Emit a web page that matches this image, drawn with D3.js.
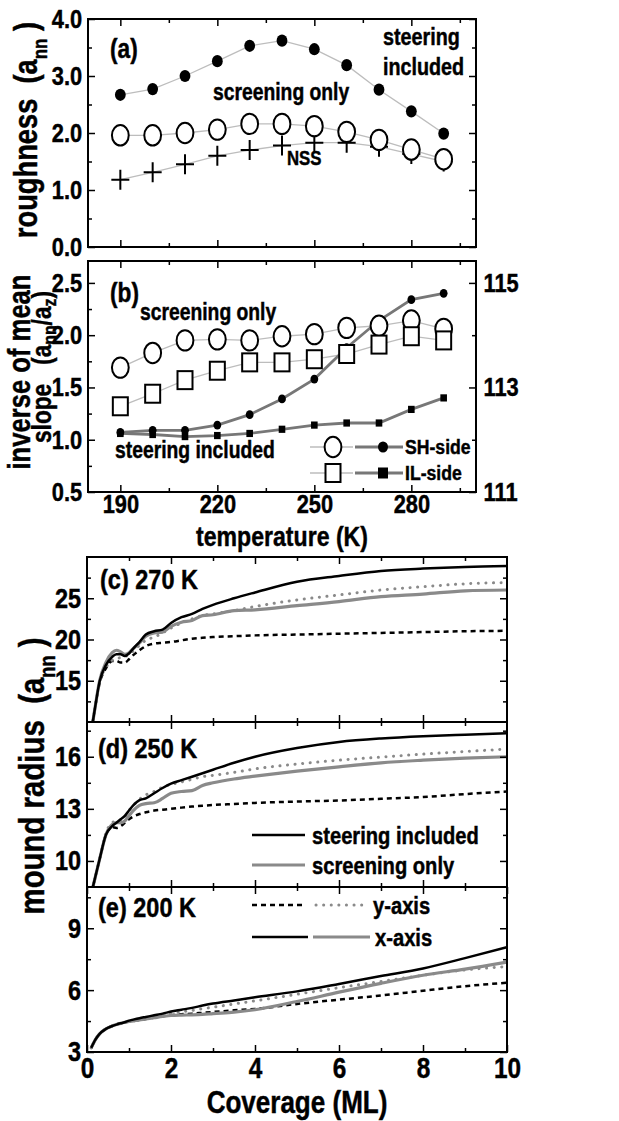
<!DOCTYPE html>
<html>
<head>
<meta charset="utf-8">
<script src="https://cdn.jsdelivr.net/npm/d3@7"></script>
<style>
  body { margin: 0; background: #fff; }
  text { font-family: "Liberation Sans", Arial, sans-serif; font-weight: bold; stroke: #000; stroke-width: 0.45px; }
</style>
</head>
<body>
<div id="chart"></div>
<script>
// page size and the horizontal squeeze of the lettering in the original figure
const W = 619, H = 1121;
const SX = 0.84;
const FONT = "'Liberation Sans', Arial, sans-serif";

// ---- panels (a) and (b): values versus temperature ----
const TEMPS = [190, 200, 210, 220, 230, 240, 250, 260, 270, 280, 290];
const ROUGH_STEER  = [2.67, 2.77, 3.00, 3.26, 3.53, 3.62, 3.47, 3.19, 2.76, 2.38, 1.99];
const ROUGH_SCREEN = [1.96, 1.96, 2.00, 2.06, 2.16, 2.16, 2.12, 2.02, 1.88, 1.71, 1.54];
const ROUGH_NSS    = [1.18, 1.31, 1.45, 1.60, 1.70, 1.78, 1.83, 1.83, 1.76, 1.63, 1.50];

const SLOPE_SH_SCREEN = [1.69, 1.83, 1.95, 1.96, 1.95, 1.99, 2.01, 2.07, 2.09, 2.14, 2.06];
const SLOPE_IL_SCREEN = [1.32, 1.44, 1.57, 1.66, 1.74, 1.74, 1.77, 1.82, 1.91, 1.99, 1.95];
const SLOPE_SH_STEER  = [1.07, 1.09, 1.09, 1.14, 1.24, 1.39, 1.58, 1.88, 2.14, 2.34, 2.40];
const SLOPE_IL_STEER  = [1.06, 1.05, 1.03, 1.04, 1.06, 1.10, 1.14, 1.16, 1.16, 1.29, 1.40];

// ---- panels (c)-(e): mound radius versus coverage ----
const COV = [0.1, 0.2, 0.3, 0.45, 0.6, 0.7, 0.8, 0.9, 1.0, 1.1, 1.25, 1.4, 1.6, 1.8, 2.0,
             2.25, 2.5, 2.75, 3, 3.5, 4, 5, 6, 7, 8, 9, 10];

const R270_X_STEER  = [8.8, 12.0, 14.9, 16.9, 17.9, 18.2, 18.2, 18.0, 18.3, 18.9, 19.7, 20.6, 21.0, 21.2, 22.0, 22.7, 23.1, 23.7, 24.2, 25.0, 25.7, 27.0, 27.7, 28.3, 28.6, 28.8, 28.9];
const R270_X_SCREEN = [8.8, 12.0, 15.0, 17.2, 18.4, 18.7, 18.5, 18.2, 18.4, 18.9, 19.6, 20.4, 20.8, 20.9, 21.6, 22.1, 22.3, 22.9, 23.0, 23.5, 23.6, 24.1, 24.6, 25.2, 25.5, 25.9, 26.0];
const R270_Y_SCREEN = [8.8, 12.0, 14.8, 16.6, 17.5, 17.7, 17.8, 17.9, 18.2, 18.6, 19.3, 19.9, 20.3, 20.8, 21.4, 22.0, 22.5, 22.9, 23.1, 23.5, 24.0, 24.8, 25.4, 26.0, 26.4, 26.75, 26.9];
const R270_Y_STEER  = [8.8, 12.0, 14.7, 16.5, 17.4, 17.4, 17.2, 17.2, 17.6, 18.1, 18.7, 19.2, 19.5, 19.6, 19.7, 19.9, 20.1, 20.2, 20.3, 20.4, 20.5, 20.6, 20.7, 20.8, 20.9, 21.0, 21.05];

const R250_X_STEER  = [8.1, 9.1, 10.1, 11.5, 12.0, 12.2, 12.4, 12.6, 12.9, 13.2, 13.5, 13.6, 13.9, 14.2, 14.45, 14.65, 14.85, 15.05, 15.25, 15.65, 16.0, 16.5, 16.85, 17.05, 17.18, 17.27, 17.35];
const R250_X_SCREEN = [8.1, 9.1, 10.1, 11.5, 12.1, 12.2, 12.2, 12.3, 12.6, 12.9, 13.2, 13.3, 13.35, 13.6, 13.9, 14.0, 14.05, 14.35, 14.5, 14.72, 14.88, 15.17, 15.42, 15.65, 15.8, 15.92, 16.0];
const R250_Y_SCREEN = [8.1, 9.1, 10.1, 11.6, 12.2, 12.3, 12.3, 12.5, 12.9, 13.2, 13.55, 13.8, 14.0, 14.25, 14.4, 14.55, 14.7, 14.85, 14.93, 15.1, 15.3, 15.58, 15.8, 15.98, 16.15, 16.3, 16.44];
const R250_Y_STEER  = [8.1, 9.1, 10.1, 11.5, 11.95, 11.9, 12.0, 12.2, 12.4, 12.55, 12.7, 12.8, 12.9, 12.95, 13.0, 13.07, 13.13, 13.18, 13.22, 13.28, 13.34, 13.42, 13.48, 13.58, 13.68, 13.85, 14.0];

const R200_X_STEER  = [3.2, 3.6, 3.88, 4.12, 4.26, 4.33, 4.39, 4.44, 4.52, 4.57, 4.64, 4.70, 4.78, 4.86, 4.96, 5.05, 5.14, 5.25, 5.35, 5.50, 5.65, 5.94, 6.30, 6.68, 7.05, 7.55, 8.08];
const R200_X_SCREEN = [3.2, 3.6, 3.88, 4.12, 4.26, 4.33, 4.39, 4.44, 4.48, 4.51, 4.56, 4.60, 4.66, 4.72, 4.77, 4.79, 4.80, 4.82, 4.86, 4.93, 5.05, 5.45, 5.90, 6.33, 6.72, 7.02, 7.36];
const R200_Y_SCREEN = [3.2, 3.6, 3.88, 4.12, 4.26, 4.33, 4.39, 4.44, 4.48, 4.52, 4.58, 4.64, 4.72, 4.80, 4.88, 4.95, 5.02, 5.10, 5.17, 5.33, 5.48, 5.80, 6.12, 6.42, 6.72, 6.98, 7.14];
const R200_Y_STEER  = [3.2, 3.6, 3.88, 4.12, 4.26, 4.33, 4.39, 4.44, 4.47, 4.50, 4.55, 4.60, 4.67, 4.74, 4.79, 4.83, 4.86, 4.90, 4.94, 5.02, 5.09, 5.33, 5.54, 5.74, 5.97, 6.19, 6.36];

// colours
const GRAY = "#8a8a8a";
const THICK_GRAY = "#777";
const LIGHT = "#bdbdbd";

// panel boxes in pixels
const BOX_A = {x0: 88, x1: 476, y0: 19, y1: 247};
const BOX_B = {x0: 88, x1: 476, y0: 261, y1: 492};
const BOX_C = {x0: 87, x1: 507, y0: 557, y1: 722};
const BOX_D = {x0: 87, x1: 507, y0: 722, y1: 887};
const BOX_E = {x0: 87, x1: 507, y0: 887, y1: 1052};

const SVG = d3.select("#chart")
              .append("svg")
                .attr("width", W)
                .attr("height", H);

// text helper: condensed bold lettering, parts can carry subscripts
function label(x, y, parts, size, anchor = "start", rot = 0, subDrop = 0.3, subSize = 0.62) {
  const t = SVG.append("text")
               .attr("transform", `translate(${x},${y}) rotate(${rot}) scale(${SX},1)`)
               .attr("font-size", size)
               .attr("text-anchor", anchor)
               .style("white-space", "pre")
               .attr("fill", "#000");
  let down = false;
  (Array.isArray(parts) ? parts : [parts]).forEach((p) => {
    const sub = Array.isArray(p);
    const s = t.append("tspan").text(sub ? p[0] : p);
    if (sub) {
      s.attr("font-size", size * subSize).attr("dy", size * subDrop);
      down = true;
    } else if (down) {
      s.attr("dy", -size * subDrop);
      down = false;
    }
  });
  return t;
}

// ticks on all four sides, pointing inward
function drawAxes(box, x, y, o) {
  const add = (axis, tx, ty, size) => {
    const a = SVG.append("g").attr("transform", `translate(${tx},${ty})`).call(axis);
    a.select(".domain").remove();
    a.selectAll("line").attr("stroke", "#000").attr("stroke-width", 1.5);
    a.selectAll("text")
       .attr("font-size", size || 26)
       .attr("font-family", FONT)
       .attr("font-weight", "bold")
       .attr("fill", "#000")
       .attr("transform", `scale(${SX},1)`);
    return a;
  };
  add(d3.axisLeft(y).tickValues(o.yMaj).tickSize(-7).tickPadding(7).tickFormat(o.yFmt), box.x0, 0, o.ySize);
  add(d3.axisLeft(y).tickValues(o.yMin).tickSize(-4).tickFormat(""), box.x0, 0);
  const yr = o.yR || y;
  add(d3.axisRight(yr).tickValues(o.yRMaj || o.yMaj).tickSize(-7).tickPadding(9).tickFormat(o.yRFmt || (() => "")), box.x1, 0, o.ySize);
  add(d3.axisRight(yr).tickValues(o.yRMin || o.yMin).tickSize(-4).tickFormat(""), box.x1, 0);
  add(d3.axisBottom(x).tickValues(o.xMaj).tickSize(-7).tickPadding(o.xPad || 3).tickFormat(o.xLabels ? d3.format("d") : (() => "")), 0, box.y1, o.xSize);
  add(d3.axisBottom(x).tickValues(o.xMin).tickSize(-4).tickFormat(""), 0, box.y1);
  add(d3.axisTop(x).tickValues(o.xMaj).tickSize(-7).tickFormat(""), 0, box.y0);
  add(d3.axisTop(x).tickValues(o.xMin).tickSize(-4).tickFormat(""), 0, box.y0);
  SVG.append("rect")
       .attr("x", box.x0).attr("y", box.y0)
       .attr("width", box.x1 - box.x0).attr("height", box.y1 - box.y0)
       .attr("fill", "none").attr("stroke", "#000").attr("stroke-width", 2);
}

// ================= panel (a) =================
const X_T = d3.scaleLinear().domain([180, 300]).range([BOX_A.x0, BOX_A.x1]);
const Y_A = d3.scaleLinear().domain([0, 4]).range([BOX_A.y1, BOX_A.y0]);

const lineA = (vals) => d3.line().x((d, i) => X_T(TEMPS[i])).y((d) => Y_A(d))(vals);
[ROUGH_NSS, ROUGH_SCREEN, ROUGH_STEER].forEach((vals) => {
  SVG.append("path").attr("d", lineA(vals))
     .attr("fill", "none").attr("stroke", LIGHT).attr("stroke-width", 1.3);
});
SVG.selectAll("nssPts").data(ROUGH_NSS).enter().append("path")
   .attr("d", "M-9,0H9M0,-10V10")
   .attr("transform", (d, i) => `translate(${X_T(TEMPS[i])},${Y_A(d)})`)
   .attr("stroke", "#000").attr("stroke-width", 2).attr("fill", "none");
SVG.selectAll("steerPts").data(ROUGH_STEER).enter().append("ellipse")
   .attr("cx", (d, i) => X_T(TEMPS[i])).attr("cy", (d) => Y_A(d))
   .attr("rx", 5.4).attr("ry", 6.1).attr("fill", "#000");
SVG.selectAll("screenPts").data(ROUGH_SCREEN).enter().append("ellipse")
   .attr("cx", (d, i) => X_T(TEMPS[i])).attr("cy", (d) => Y_A(d))
   .attr("rx", 8.4).attr("ry", 10.2).attr("fill", "#fff")
   .attr("stroke", "#000").attr("stroke-width", 2);

drawAxes(BOX_A, X_T, Y_A, {
  yMaj: [0, 1, 2, 3, 4], yMin: [0.5, 1.5, 2.5, 3.5], yFmt: d3.format(".1f"),
  xMaj: [190, 220, 250, 280], xMin: [205, 235, 265, 295], xLabels: false
});

label(110, 58, "(a)", 27);
label(383, 45, "steering", 23.5);
label(383, 75, "included", 23.5);
label(213, 100, "screening only", 23);
label(287, 165, "NSS", 20);

// ================= panel (b) =================
const Y_B = d3.scaleLinear().domain([0.5, 2.7]).range([BOX_B.y1, BOX_B.y0 + 1]);
const Y_BR = d3.scaleLinear().domain([111, 115.4]).range([BOX_B.y1, BOX_B.y0 + 1]);

const lineB = (vals) => d3.line().x((d, i) => X_T(TEMPS[i])).y((d) => Y_B(d))(vals);
[SLOPE_SH_SCREEN, SLOPE_IL_SCREEN].forEach((vals) => {
  SVG.append("path").attr("d", lineB(vals))
     .attr("fill", "none").attr("stroke", LIGHT).attr("stroke-width", 1.3);
});
[SLOPE_IL_STEER, SLOPE_SH_STEER].forEach((vals) => {
  SVG.append("path").attr("d", lineB(vals))
     .attr("fill", "none").attr("stroke", THICK_GRAY).attr("stroke-width", 2.8);
});
SVG.selectAll("ilSteer").data(SLOPE_IL_STEER).enter().append("rect")
   .attr("x", (d, i) => X_T(TEMPS[i]) - 3.3).attr("y", (d) => Y_B(d) - 3.6)
   .attr("width", 6.6).attr("height", 7.2).attr("fill", "#000");
SVG.selectAll("shSteer").data(SLOPE_SH_STEER).enter().append("ellipse")
   .attr("cx", (d, i) => X_T(TEMPS[i])).attr("cy", (d) => Y_B(d))
   .attr("rx", 3.9).attr("ry", 4.4).attr("fill", "#000");
SVG.selectAll("shScreen").data(SLOPE_SH_SCREEN).enter().append("ellipse")
   .attr("cx", (d, i) => X_T(TEMPS[i])).attr("cy", (d) => Y_B(d))
   .attr("rx", 8.4).attr("ry", 10.2).attr("fill", "#fff")
   .attr("stroke", "#000").attr("stroke-width", 2);
SVG.selectAll("ilScreen").data(SLOPE_IL_SCREEN).enter().append("rect")
   .attr("x", (d, i) => X_T(TEMPS[i]) - 7.5).attr("y", (d) => Y_B(d) - 9)
   .attr("width", 15).attr("height", 18).attr("fill", "#fff")
   .attr("stroke", "#000").attr("stroke-width", 2);

drawAxes(BOX_B, X_T, Y_B, {
  yMaj: [0.5, 1.0, 1.5, 2.0, 2.5], yMin: [0.75, 1.25, 1.75, 2.25], yFmt: d3.format(".1f"),
  yR: Y_BR, yRMaj: [111, 113, 115], yRMin: [112, 114], yRFmt: d3.format("d"),
  xMaj: [190, 220, 250, 280], xMin: [205, 235, 265, 295], xLabels: true, xPad: 3
});

label(110, 302, "(b)", 27);
label(140, 320, "screening only", 23);
label(115, 458, "steering included", 23);

// legend of (b)
[[447, "circle", "SH-side"], [473, "square", "IL-side"]].forEach(([y, shape, name]) => {
  SVG.append("line").attr("x1", 310).attr("x2", 353).attr("y1", y).attr("y2", y)
     .attr("stroke", LIGHT).attr("stroke-width", 1.3);
  SVG.append("line").attr("x1", 355).attr("x2", 403).attr("y1", y).attr("y2", y)
     .attr("stroke", THICK_GRAY).attr("stroke-width", 2.8);
  if (shape === "circle") {
    SVG.append("ellipse").attr("cx", 333).attr("cy", y).attr("rx", 8.4).attr("ry", 10.2)
       .attr("fill", "#fff").attr("stroke", "#000").attr("stroke-width", 2);
    SVG.append("ellipse").attr("cx", 383).attr("cy", y).attr("rx", 5).attr("ry", 5.6).attr("fill", "#000");
  } else {
    SVG.append("rect").attr("x", 325.5).attr("y", y - 9).attr("width", 15).attr("height", 18)
       .attr("fill", "#fff").attr("stroke", "#000").attr("stroke-width", 2);
    SVG.append("rect").attr("x", 378).attr("y", y - 5.5).attr("width", 10).attr("height", 11).attr("fill", "#000");
  }
  label(405, y + 7, name, 21);
});

label(282, 546, "temperature (K)", 27.5, "middle");
label(37, 130, ["roughness  (a", ["nn"], " )"], 32.5, "middle", -90);
label(30, 372, "inverse of mean", 30.5, "middle", -90);
label(51, 367, ["slope   (a", ["nn"], "/a", ["z"], ")"], 27, "middle", -90, 0.2, 0.7);

// ================= panels (c), (d), (e) =================
const X_C = d3.scaleLinear().domain([0, 10]).range([BOX_C.x0, BOX_C.x1]);

const STYLES = {
  yStruct:  {stroke: "#000", width: 2.5, dash: "5,4", cap: "butt"},
  yScreen:  {stroke: GRAY, width: 3, dash: "0.1,7.5", cap: "round"},
  xScreen:  {stroke: GRAY, width: 3.2, dash: null, cap: "butt"},
  xStruct:  {stroke: "#000", width: 2.5, dash: null, cap: "butt"}
};

function coveragePanel(box, domain, series, opts, id) {
  const y = d3.scaleLinear().domain(domain).range([box.y1, box.y0]);
  SVG.append("clipPath").attr("id", id)
     .append("rect").attr("x", box.x0).attr("y", box.y0)
       .attr("width", box.x1 - box.x0).attr("height", box.y1 - box.y0);
  const line = d3.line().x((d, i) => X_C(COV[i])).y((d) => y(d)).curve(d3.curveMonotoneX);
  series.forEach(([vals, st]) => {
    SVG.append("path").attr("d", line(vals))
       .attr("clip-path", `url(#${id})`)
       .attr("fill", "none").attr("stroke", st.stroke).attr("stroke-width", st.width)
       .attr("stroke-dasharray", st.dash).attr("stroke-linecap", st.cap)
       .attr("stroke-linejoin", "round");
  });
  drawAxes(box, X_C, y, opts);
  return y;
}

coveragePanel(BOX_C, [10, 30], [
  [R270_Y_STEER, STYLES.yStruct], [R270_Y_SCREEN, STYLES.yScreen],
  [R270_X_SCREEN, STYLES.xScreen], [R270_X_STEER, STYLES.xStruct]
], {yMaj: [15, 20, 25], yMin: [12.5, 17.5, 22.5, 27.5], yFmt: d3.format("d"), ySize: 28,
    xMaj: [2, 4, 6, 8], xMin: [1, 3, 5, 7, 9], xLabels: false}, "clipC");

coveragePanel(BOX_D, [8.5, 18], [
  [R250_Y_STEER, STYLES.yStruct], [R250_Y_SCREEN, STYLES.yScreen],
  [R250_X_SCREEN, STYLES.xScreen], [R250_X_STEER, STYLES.xStruct]
], {yMaj: [10, 13, 16], yMin: [11.5, 14.5, 17.5], yFmt: d3.format("d"), ySize: 28,
    xMaj: [2, 4, 6, 8], xMin: [1, 3, 5, 7, 9], xLabels: false}, "clipD");

coveragePanel(BOX_E, [3, 11], [
  [R200_Y_STEER, STYLES.yStruct], [R200_Y_SCREEN, STYLES.yScreen],
  [R200_X_SCREEN, STYLES.xScreen], [R200_X_STEER, STYLES.xStruct]
], {yMaj: [3, 6, 9], yMin: [4.5, 7.5, 10.5], yFmt: d3.format("d"), ySize: 28,
    xMaj: [0, 2, 4, 6, 8, 10], xMin: [1, 3, 5, 7, 9], xLabels: true, xPad: 5, xSize: 29}, "clipE");

label(100, 589, "(c) 270 K", 28);
label(98, 758, "(d) 250 K", 28);
label(98, 917, "(e) 200 K", 28);

// legends of (d) and (e)
const legendLine = (x1, x2, y, st) => {
  SVG.append("line").attr("x1", x1).attr("x2", x2).attr("y1", y).attr("y2", y)
     .attr("stroke", st.stroke).attr("stroke-width", st.width)
     .attr("stroke-dasharray", st.dash).attr("stroke-linecap", st.cap);
};
legendLine(252, 305, 835, STYLES.xStruct);
legendLine(252, 305, 865, STYLES.xScreen);
label(312, 844, "steering included", 24);
label(312, 874, "screening only", 24);

legendLine(252, 303, 905, STYLES.yStruct);
legendLine(316, 368, 905, STYLES.yScreen);
legendLine(252, 308, 937, STYLES.xStruct);
legendLine(313, 370, 937, STYLES.xScreen);
label(373, 914, "y-axis", 24);
label(375, 946, "x-axis", 24);

label(297, 1113, "Coverage (ML)", 31, "middle");
label(44, 776, ["mound radius  (a", ["nn"], " )"], 35, "middle", -90);
</script>
</body>
</html>
